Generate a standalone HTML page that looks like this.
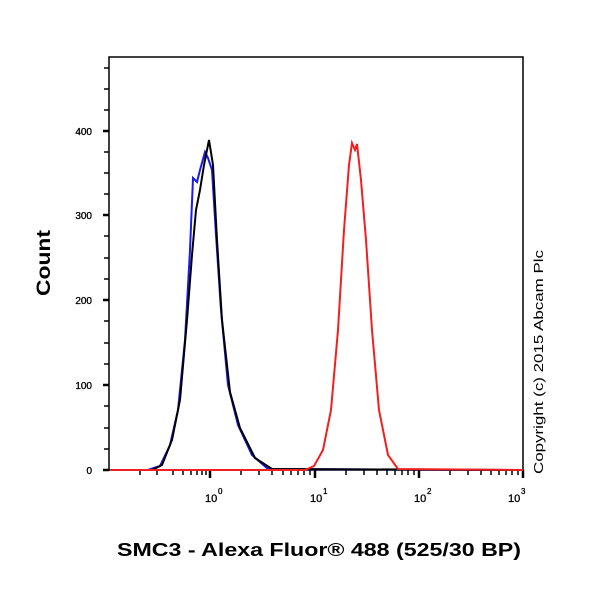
<!DOCTYPE html>
<html><head><style>body{margin:0;background:#fff}svg{display:block}</style></head><body>
<svg width="600" height="600" xmlns="http://www.w3.org/2000/svg" font-family="Liberation Sans, Arial, sans-serif">
<rect x="0" y="0" width="600" height="600" fill="#fff"/>
<rect x="109" y="57" width="414" height="413" fill="none" stroke="#000" stroke-width="1.5"/>
<g stroke="#000" stroke-width="1.5" id="yt">
<line x1="103" y1="470" x2="109" y2="470" stroke-width="2.5"/>
<line x1="103" y1="385" x2="109" y2="385" stroke-width="2.5"/>
<line x1="103" y1="300" x2="109" y2="300" stroke-width="2.5"/>
<line x1="103" y1="215" x2="109" y2="215" stroke-width="2.5"/>
<line x1="103" y1="131" x2="109" y2="131" stroke-width="2.5"/>
<line x1="104" y1="449" x2="109" y2="449"/><line x1="104" y1="428" x2="109" y2="428"/><line x1="104" y1="406" x2="109" y2="406"/>
<line x1="104" y1="364" x2="109" y2="364"/><line x1="104" y1="343" x2="109" y2="343"/><line x1="104" y1="321" x2="109" y2="321"/>
<line x1="104" y1="279" x2="109" y2="279"/><line x1="104" y1="258" x2="109" y2="258"/><line x1="104" y1="236" x2="109" y2="236"/>
<line x1="104" y1="194" x2="109" y2="194"/><line x1="104" y1="173" x2="109" y2="173"/><line x1="104" y1="152" x2="109" y2="152"/>
<line x1="104" y1="110" x2="109" y2="110"/><line x1="104" y1="89" x2="109" y2="89"/><line x1="104" y1="68" x2="109" y2="68"/>
</g>
<g font-size="10" text-anchor="end" fill="#000" stroke="#000" stroke-width="0.3">
<text x="92" y="474">0</text><text x="92" y="389">100</text><text x="92" y="304">200</text><text x="92" y="219">300</text><text x="92" y="135">400</text>
</g>
<g stroke="#000" stroke-width="1.5">
<line x1="210" y1="470" x2="210" y2="478" stroke-width="2.5"/>
<line x1="315" y1="470" x2="315" y2="478" stroke-width="2.5"/>
<line x1="419" y1="470" x2="419" y2="478" stroke-width="2.5"/>
<line x1="523" y1="470" x2="523" y2="478" stroke-width="2.5"/>
<line x1="140" y1="470" x2="140" y2="475"/><line x1="157" y1="470" x2="157" y2="475"/><line x1="173" y1="470" x2="173" y2="475"/><line x1="183" y1="470" x2="183" y2="475"/><line x1="191" y1="470" x2="191" y2="475"/><line x1="197" y1="470" x2="197" y2="475"/><line x1="202" y1="470" x2="202" y2="475"/><line x1="206" y1="470" x2="206" y2="475"/>
<line x1="241" y1="470" x2="241" y2="475"/><line x1="259" y1="470" x2="259" y2="475"/><line x1="272" y1="470" x2="272" y2="475"/><line x1="283" y1="470" x2="283" y2="475"/><line x1="291" y1="470" x2="291" y2="475"/><line x1="298" y1="470" x2="298" y2="475"/><line x1="304" y1="470" x2="304" y2="475"/><line x1="310" y1="470" x2="310" y2="475"/>
<line x1="346" y1="470" x2="346" y2="475"/><line x1="364" y1="470" x2="364" y2="475"/><line x1="377" y1="470" x2="377" y2="475"/><line x1="387" y1="470" x2="387" y2="475"/><line x1="395" y1="470" x2="395" y2="475"/><line x1="402" y1="470" x2="402" y2="475"/><line x1="408" y1="470" x2="408" y2="475"/><line x1="414" y1="470" x2="414" y2="475"/>
<line x1="450" y1="470" x2="450" y2="475"/><line x1="468" y1="470" x2="468" y2="475"/><line x1="481" y1="470" x2="481" y2="475"/><line x1="491" y1="470" x2="491" y2="475"/><line x1="499" y1="470" x2="499" y2="475"/><line x1="506" y1="470" x2="506" y2="475"/><line x1="512" y1="470" x2="512" y2="475"/><line x1="518" y1="470" x2="518" y2="475"/>
</g>
<g font-size="11" fill="#000" stroke="#000" stroke-width="0.3">
<text x="205" y="502">10</text><text x="218" y="494" font-size="8">0</text>
<text x="310" y="502">10</text><text x="323" y="494" font-size="8">1</text>
<text x="414" y="502">10</text><text x="427" y="494" font-size="8">2</text>
<text x="508" y="502">10</text><text x="521" y="494" font-size="8">3</text>
</g>
<path d="M110,470 L148,470 L160,466 L170,445 L178,410 L185,340 L190,250 L193,178 L197,182 L200,170 L205,152 L208,158 L212,170 L216,235 L221,310 L228,385 L238,425 L252,455 L268,469 L523,470" fill="none" stroke="#1a1aee" stroke-width="2"/>
<path d="M110,470 L152,470 L162,465 L172,440 L180,400 L187,320 L192,255 L196,210 L200,190 L204,165 L209,140 L213,165 L217,240 L222,320 L230,392 L240,428 L255,458 L272,469 L523,470" fill="none" stroke="#000" stroke-width="2"/>
<path d="M110,470 L305,470 L314,466 L323,450 L331,410 L338,330 L344,230 L349,165 L352,143 L355,150 L357,144 L361,180 L366,240 L372,330 L379,410 L388,455 L398,469 L523,470" fill="none" stroke="#f02020" stroke-width="2"/>
<text x="117" y="556" font-size="18" font-weight="bold" textLength="404" lengthAdjust="spacingAndGlyphs">SMC3 - Alexa Fluor® 488 (525/30 BP)</text>
<text transform="translate(50,296) rotate(-90)" font-size="19" font-weight="bold" textLength="66" lengthAdjust="spacingAndGlyphs">Count</text>
<text transform="translate(543,474) rotate(-90)" font-size="13" textLength="224" lengthAdjust="spacingAndGlyphs">Copyright (c) 2015 Abcam Plc</text>
</svg>
</body></html>
